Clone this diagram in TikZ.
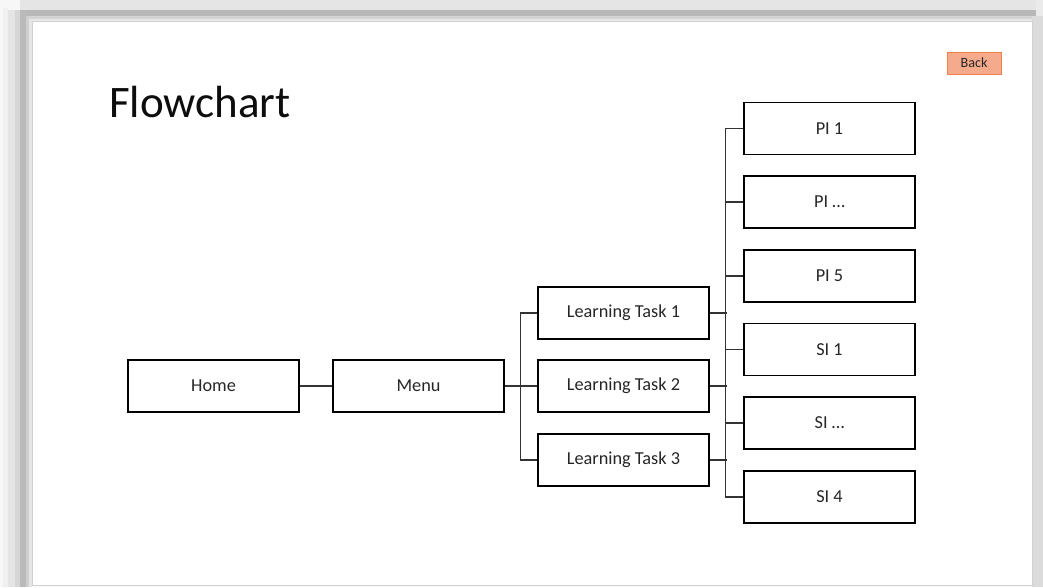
\documentclass[tikz,border=0pt]{standalone}
\usepackage{fontspec}
\setmainfont{Carlito}
\usetikzlibrary{calc}
\definecolor{backfill}{RGB}{246,170,140}
\definecolor{backline}{RGB}{240,128,80}
\definecolor{ink}{RGB}{38,38,38}
\tikzset{
  box/.style={draw=black, line width=1.1pt, fill=white, minimum width=128.25pt,
    minimum height=39pt, inner sep=0pt, text=ink,
    font=\fontsize{13.7}{16}\selectfont},
  link/.style={draw=black!80, line width=0.8pt},
  backbtn/.style={draw=backline, line width=0.7pt, fill=backfill, minimum width=40.5pt,
    minimum height=16.5pt, inner sep=0pt, text=ink, font=\fontsize{10.6}{12}\selectfont},
}
\begin{document}
\begin{tikzpicture}[x=0.75pt, y=-0.75pt]
\useasboundingbox (0,0) rectangle (1043,587);
% window frame and shadow around the slide
\fill[black!3] (0,0) rectangle (1043,587);
\fill[black!10] (20,0) rectangle (1043,10);
\fill[black!28] (24,10) rectangle (1040,16);
\fill[black!17] (26,16) rectangle (1036,19);
\fill[black!9] (29,19) rectangle (1034,21);
\fill[black!6] (3,8) rectangle (8,587);
\fill[black!10] (8,10) rectangle (15,587);
\fill[black!16] (15,10) rectangle (20,587);
\fill[black!27] (20,10) rectangle (26,587);
\fill[black!19] (26,16) rectangle (29,587);
\fill[black!10] (29,19) rectangle (32,587);
\fill[black!14] (1032,16) rectangle (1043,587);
\fill[black!8] (1036,0) rectangle (1043,16);
% slide
\fill[white] (32,21) rectangle (1032,585);
\draw[black!18, line width=0.6pt] (32,21) rectangle (1032,585);

% title and back button
\node[anchor=base west, inner sep=0pt, text=black!95,
  font=\fontsize{33.8}{38}\selectfont] (title) at (109,117) {Flowchart};
\node[backbtn] (back) at (974,63) {Back};

% boxes
\node[box] (home) at (213.5,386) {Home};
\node[box] (menu) at (418.5,386) {Menu};
\node[box] (lt1) at (623.5,313) {Learning Task 1};
\node[box] (lt2) at (623.5,386) {Learning Task 2};
\node[box] (lt3) at (623.5,460) {Learning Task 3};
\node[box] (pi1) at (829.5,128.5) {PI 1};
\node[box] (pi2) at (829.5,202) {PI \dots};
\node[box] (pi5) at (829.5,276) {PI 5};
\node[box] (si1) at (829.5,349.5) {SI 1};
\node[box] (si2) at (829.5,423) {SI \dots};
\node[box] (si4) at (829.5,497) {SI 4};

% connectors
\draw[link] (home.east) -- (menu.west);
\draw[link] (menu.east) -- (lt2.west);
\draw[link] (lt1.west) -- ++(-17,0) |- (lt3.west);
\draw[link] (pi1.west) -- ++(-18,0) |- (si4.west);
\draw[link] (pi2.west) -- ++(-18,0);
\draw[link] (pi5.west) -- ++(-18,0);
\draw[link] (si1.west) -- ++(-18,0);
\draw[link] (si2.west) -- ++(-18,0);
\draw[link] (lt1.east) -- ++(17,0);
\draw[link] (lt2.east) -- ++(17,0);
\draw[link] (lt3.east) -- ++(17,0);
\end{tikzpicture}
\end{document}
